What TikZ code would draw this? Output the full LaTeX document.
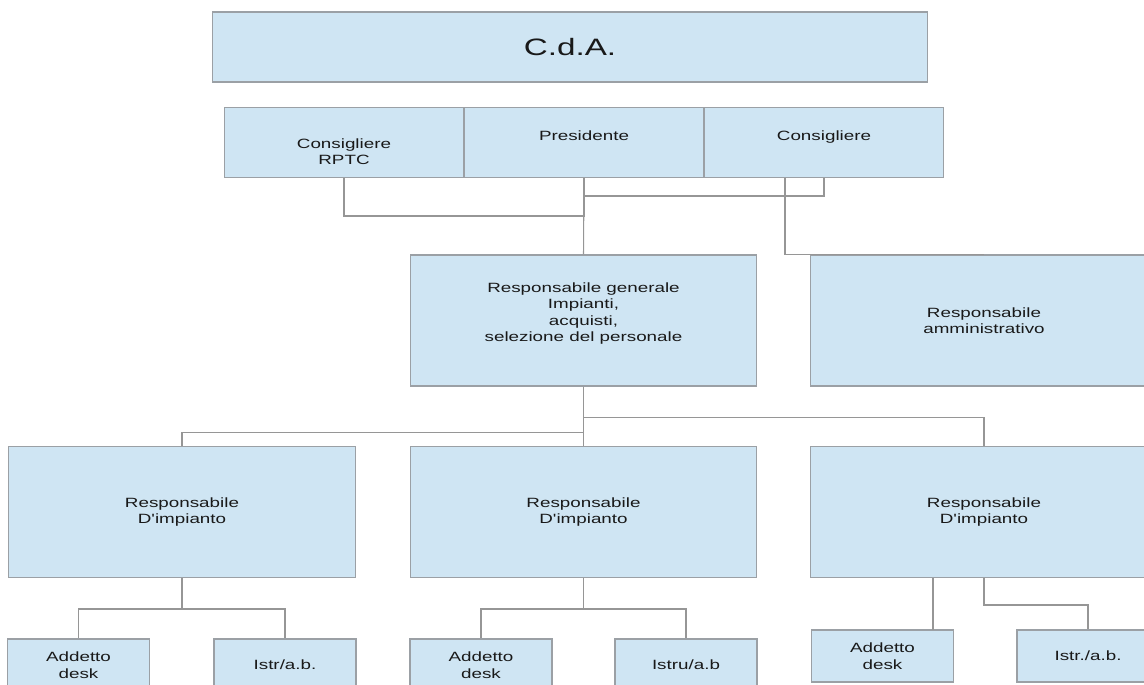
\documentclass[tikz,border=0pt]{standalone}
\usepackage{fontspec}
\setmainfont{Liberation Sans}[FakeStretch=1.4, Ligatures=TeXOff]
\usepackage{xcolor}
\usepackage{tikz}
\definecolor{boxblue}{RGB}{207, 229, 243}
\definecolor{boxgray}{RGB}{155, 160, 165}
\definecolor{linegray}{RGB}{150, 150, 150}
\definecolor{textdark}{RGB}{25, 25, 25}
\usetikzlibrary{positioning}

\begin{document}
\begin{tikzpicture}[
    x=0.02cm, y=-0.02cm,
    every node/.style={font=\fontsize{7.65}{9.35}\selectfont, text=textdark},
    unitbox/.style={rectangle, draw=boxgray, fill=boxblue, line width=0.6pt,
                    align=center, inner sep=0pt},
    boardbox/.style={unitbox, minimum width=14.32cm, minimum height=1.4cm,
                     font=\fontsize{13.5}{16}\selectfont},
    memberbox/.style={unitbox, minimum width=4.78cm, minimum height=1.4cm},
    raisedtext/.style={text height=5.6pt, text depth=7.6pt},
    headbox/.style={unitbox, minimum width=6.94cm, minimum height=2.62cm},
    staffbox/.style={unitbox, minimum width=2.84cm, minimum height=1.04cm},
    link/.style={draw=linegray, line width=0.6pt}
]
    \useasboundingbox (0,0) rectangle (1144,684);
    \clip (0,0) rectangle (1144,684);

    % Board
    \node[boardbox] (cda) at (570,47) {C.d.A.};
    \node[memberbox, raisedtext] (pres) at (584,142.5) {Presidente};
    \node[memberbox, left=0pt of pres] (cons1) {\strut\\Consigliere\\RPTC};
    \node[memberbox, raisedtext, right=0pt of pres] (cons2) {Consigliere};

    % Heads
    \node[headbox] (rg) at (583.5,320.5) {Responsabile generale\\Impianti,\\acquisti,\\selezione del personale\\\mbox{}};
    \node[headbox] (ra) at (984,320.5) {Responsabile\\amministrativo};

    % Plants
    \node[headbox] (rdi1) at (182,512) {Responsabile\\D'impianto};
    \node[headbox] (rdi2) at (583.5,512) {Responsabile\\D'impianto};
    \node[headbox] (rdi3) at (984,512) {Responsabile\\D'impianto};

    % Staff
    \node[staffbox] (ad1) at (78.5,665) {Addetto\\desk};
    \node[staffbox] (is1) at (285,665) {Istr/a.b.};
    \node[staffbox] (ad2) at (481,665) {Addetto\\desk};
    \node[staffbox] (is2) at (686,665) {Istru/a.b};
    \node[staffbox] (ad3) at (882.5,656) {Addetto\\desk};
    \node[staffbox] (is3) at (1088,656) {Istr./a.b.};

    \coordinate (ctap) at (785,177.5);
    \coordinate (adtap) at (933,630);

    % Connecting lines
    \draw[link] (pres.south) -- (rg.north);
    \draw[link] (cons1.south) -- ++(0,38) -| (pres.south);
    \draw[link] (cons2.south) -- ++(0,18) -| (pres.south);
    \draw[link] (ctap) |- (ra.north);

    \draw[link] (rg.south) -- (rdi2.north);
    \draw[link] (rg.south) -- ++(0,46) -| (rdi1.north);
    \draw[link] (rg.south) -- ++(0,31) -| (rdi3.north);

    \draw[link] (rdi1.south) -- ++(0,31) -| (ad1.north);
    \draw[link] (rdi1.south) -- ++(0,31) -| (is1.north);
    \draw[link] (rdi2.south) -- ++(0,31) -| (ad2.north);
    \draw[link] (rdi2.south) -- ++(0,31) -| (is2.north);
    \draw[link] (rdi3.south -| adtap) -- (adtap);
    \draw[link] (rdi3.south) -- ++(0,27) -| (is3.north);
\end{tikzpicture}
\end{document}
